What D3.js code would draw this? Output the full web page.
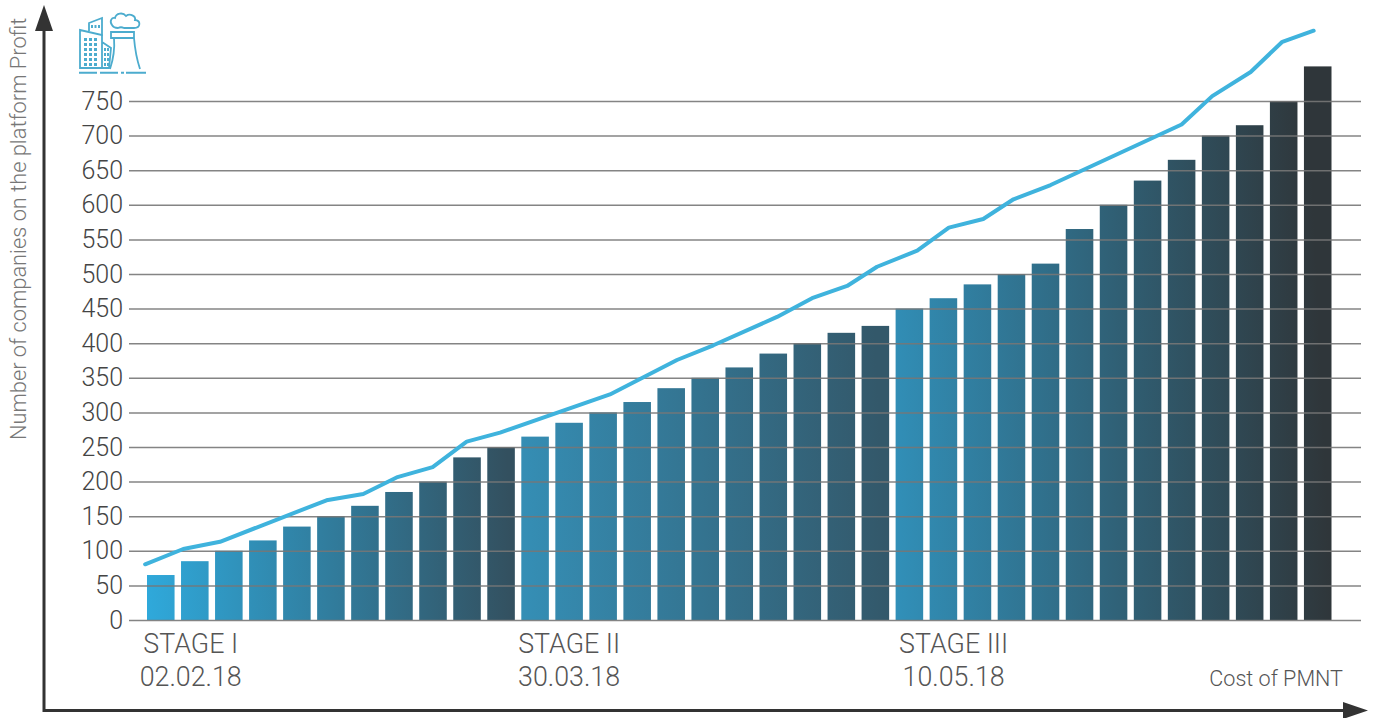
<!DOCTYPE html>
<html><head><meta charset="utf-8">
<script src="https://cdn.jsdelivr.net/npm/d3@7"></script>
<style>
html,body{margin:0;padding:0;background:#fff;overflow:hidden}
svg{display:block}
text{font-family:Roboto,sans-serif;font-weight:300}
</style></head><body>
<div id="chart"></div>
<script>
const companies = [65,85,100,115,135,150,165,185,200,235,250,
  265,285,300,315,335,350,365,385,400,415,425,
  450,465,485,500,515,565,600,635,665,700,715,750,800];
const stageLengths = [11,11,13];
const stageNames = ["STAGE I","STAGE II","STAGE III"];
const stageDates = ["02.02.18","30.03.18","10.05.18"];
const stageCentres = [0.88,12.0,23.3];
const stageStart = ["#2fa9db","#358fb6","#3190b9"];
const stageEnd = ["#33505f","#33586a","#2f363a"];
const profitSlot = [-0.46,0.66,1.74,4.87,5.95,6.93,7.99,8.99,9.97,13.2,15.17,16.24,18.11,19.14,20.17,21.05,22.23,23.16,24.17,25.06,26.15,30.0,30.9,32.03,32.96,33.88];
const profitValue = [80.5,102.6,113,173,182,206,221,257.7,270.7,326,375.7,397,438,465,482.7,510.5,533.7,567,579.5,608,628.6,716,757,792,835.6,851.6];
const yTicks = d3.range(0,751,50);
const yTitle = "Number of companies on the platform Profit";
const xTitle = "Cost of PMNT";

const W=1374,H=718;
const svg=d3.select("#chart").append("svg").attr("width",W).attr("height",H);
const defs=svg.append("defs");
const y=d3.scaleLinear().domain([0,750]).range([620,101]);
const band=d3.scaleBand().domain(d3.range(companies.length)).range([147,1331.5]).paddingInner(0.19);
const cx=i=>band(i)+band.bandwidth()/2;
const slot=d3.scaleLinear().domain([0,companies.length-1]).range([cx(0),cx(companies.length-1)]);

// stage gradients
let startIdx=0;
const stageOf=[];
stageLengths.forEach((n,s)=>{
  const first=startIdx,last=startIdx+n-1;
  const g=defs.append("linearGradient").attr("id","stage"+s)
    .attr("gradientUnits","userSpaceOnUse")
    .attr("x1",band(first)).attr("x2",band(last)+band.bandwidth())
    .attr("y1",620).attr("y2",600);
  g.append("stop").attr("offset",0).attr("stop-color",stageStart[s]);
  g.append("stop").attr("offset",1).attr("stop-color",stageEnd[s]);
  for(let i=first;i<=last;i++)stageOf[i]=s;
  startIdx+=n;
});

// bars
svg.append("g").selectAll("rect").data(companies).join("rect")
  .attr("x",(d,i)=>band(i)).attr("width",band.bandwidth())
  .attr("y",d=>y(d)).attr("height",d=>620-y(d))
  .attr("fill",(d,i)=>`url(#stage${stageOf[i]})`);

// y axis with gridlines
const axis=svg.append("g").attr("transform","translate(129,0)")
  .call(d3.axisLeft(y).tickValues(yTicks).tickSize(0).tickPadding(6));
axis.select(".domain").remove();
axis.selectAll("text").attr("font-size",25).attr("fill","#444").style("font-family","Roboto,sans-serif").style("font-weight",300);
axis.selectAll(".tick line").attr("x2",1232).attr("stroke","#777").attr("stroke-width",1.5).attr("stroke-opacity",0.9);

// profit line
svg.append("path").datum(profitSlot.map((s,i)=>[s,profitValue[i]]))
  .attr("d",d3.line().x(d=>slot(d[0])).y(d=>y(d[1])))
  .attr("fill","none").attr("stroke","#3fb3dd").attr("stroke-width",4).attr("stroke-linecap","round").attr("stroke-linejoin","round");

// arrows
const axc="#333";
svg.append("path").attr("d","M44,28V710.5H1345").attr("fill","none").attr("stroke",axc).attr("stroke-width",3);
svg.append("path").attr("d","M44,5L53,31H35Z").attr("fill",axc);
svg.append("path").attr("d","M1368,710.5L1343,702V719Z").attr("fill",axc);

// stage labels
stageNames.forEach((n,s)=>{
  svg.append("text").attr("x",slot(stageCentres[s])).attr("y",653).attr("text-anchor","middle")
    .attr("font-size",26.8).attr("fill","#555").text(n);
  svg.append("text").attr("x",slot(stageCentres[s])).attr("y",686).attr("text-anchor","middle")
    .attr("font-size",26.8).attr("fill","#555").text(stageDates[s]);
});
svg.append("text").attr("x",1343).attr("y",686).attr("text-anchor","end").attr("font-size",21.6).attr("fill","#555").text(xTitle);
svg.append("text").attr("transform","translate(26,440) rotate(-90)").attr("font-size",21.8).attr("fill","#777").text(yTitle);

// icon
const ic=svg.append("g").attr("fill","none").attr("stroke","#4cacce").attr("stroke-width",1.8);
ic.append("path").attr("d","M80,30V68H102V35ZM102,42L111,48L109,68H102");
ic.append("path").attr("d","M89,31V23L102,18V36");
ic.append("path").attr("d","M111,32H134V38H111ZM114,38C115,50 113,60 110,69M134,38C135,50 137,60 140,69");
ic.append("path").attr("d","M112,25C109,21 112,17 115,18C116,13 123,12 126,16C130,13 136,16 135,20C141,20 141,28 134,28H124C122,27 120,27 118,28C115,28 113,27 112,25Z");
ic.append("path").attr("d","M79,72.7H97M100,72.7H118M121,72.7H124M126,72.7H146").attr("stroke-width",2);
const win=ic.append("g").attr("fill","#4cacce").attr("stroke","none");
for(let r=0;r<6;r++)for(let c=0;c<3;c++)
  win.append("rect").attr("x",84+c*5).attr("y",38+r*5).attr("width",3).attr("height",3);
for(let r=0;r<4;r++)for(let c=0;c<2;c++)
  win.append("rect").attr("x",104+c*3).attr("y",48+r*5).attr("width",2).attr("height",3);
for(let c=0;c<3;c++)
  win.append("rect").attr("x",91+c*3.5).attr("y",25).attr("width",2).attr("height",3);
</script></body></html>
